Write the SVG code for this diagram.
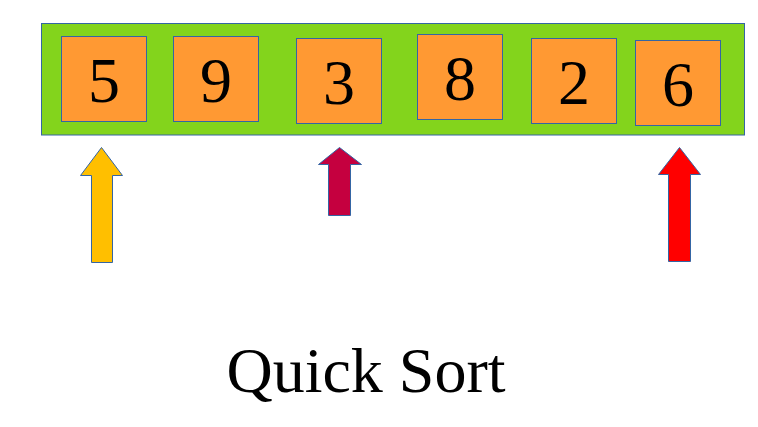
<svg xmlns="http://www.w3.org/2000/svg" width="758" height="427" viewBox="0 0 758 427">
<style>
.cell{fill:#ff9933;stroke:#3465a4;stroke-width:1}
.num{font-family:"Liberation Serif","Times New Roman",serif;font-size:64px;fill:#000;text-anchor:middle}
.arr{stroke:#3465a4;stroke-width:1}
</style>
<rect width="758" height="427" fill="#ffffff"/>
<g id="array">
<rect x="41.5" y="23.5" width="703" height="111.5" fill="#83d41c" stroke="#3465a4" stroke-width="1"/>
</g>
<g id="n5"><rect class="cell" x="61.5" y="36.5" width="85" height="85"/><text class="num" x="104" y="102">5</text></g>
<g id="n9"><rect class="cell" x="173.5" y="36.5" width="85" height="85"/><text class="num" x="216" y="102">9</text></g>
<g id="n3"><rect class="cell" x="296.5" y="38.5" width="85" height="85"/><text class="num" x="339" y="104">3</text></g>
<g id="n8"><rect class="cell" x="417.5" y="34.5" width="85" height="85"/><text class="num" x="460" y="100">8</text></g>
<g id="n2"><rect class="cell" x="531.5" y="38.5" width="85" height="85"/><text class="num" x="574" y="104">2</text></g>
<g id="n6"><rect class="cell" x="635.5" y="40.5" width="85" height="85"/><text class="num" x="678" y="106">6</text></g>
<g id="connectors">
<polygon class="arr" fill="#ffbf00" points="101.5,147.5 122.5,175.5 112.5,175.5 112.5,262.5 91.5,262.5 91.5,175.5 80.5,175.5"/>
<polygon class="arr" fill="#c5003f" points="339.5,147.5 361.5,164.5 350.5,164.5 350.5,215.5 328.5,215.5 328.5,164.5 318.5,164.5"/>
<polygon class="arr" fill="#ff0000" points="679.5,147.5 700.5,174.5 690.5,174.5 690.5,261.5 668.5,261.5 668.5,174.5 658.5,174.5"/>
</g>
<text x="366" y="392" font-family="'Liberation Serif','Times New Roman',serif" font-size="64" text-anchor="middle" fill="#000">Quick Sort</text>
</svg>
